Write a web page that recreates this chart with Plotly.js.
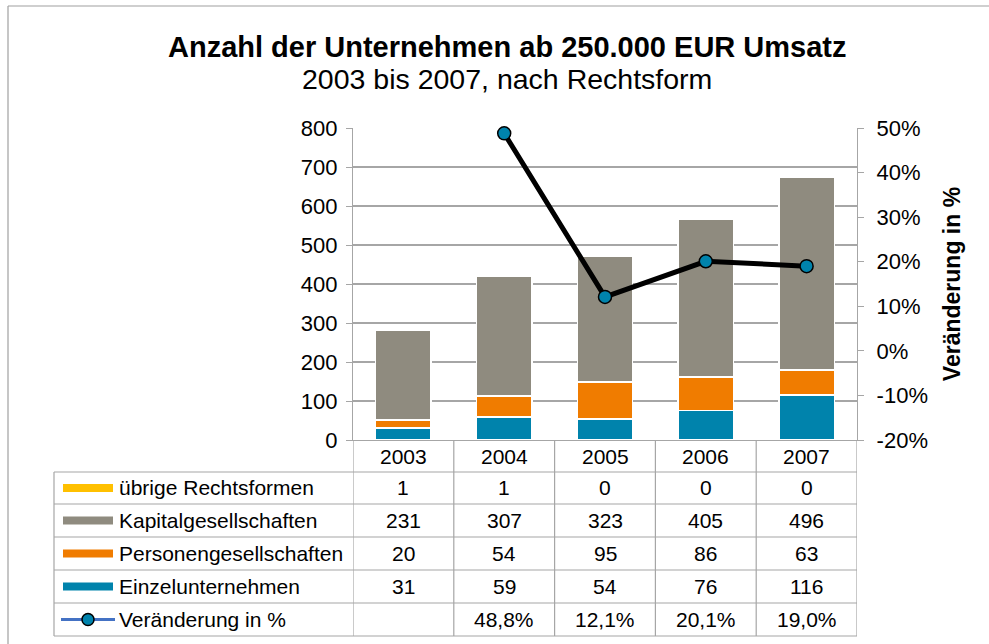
<!DOCTYPE html>
<html>
<head>
<meta charset="utf-8">
<script src="https://cdn.plot.ly/plotly-3.0.1.min.js"></script>
<style>
html,body{margin:0;padding:0;background:#fff;}
#chart{width:989px;height:644px;}
</style>
</head>
<body>
<div id="chart"></div>
<script>
// ---- data ----
const years = ['2003', '2004', '2005', '2006', '2007'];
const einzel = [31, 59, 54, 76, 116];
const personen = [20, 54, 95, 86, 63];
const kapital = [231, 307, 323, 405, 496];
const uebrige = [1, 1, 0, 0, 0];
const veraenderung = [null, 0.488, 0.121, 0.201, 0.190];
const seriesNames = ['übrige Rechtsformen', 'Kapitalgesellschaften', 'Personengesellschaften', 'Einzelunternehmen'];
const lineName = 'Veränderung in %';
const titleText = 'Anzahl der Unternehmen ab 250.000 EUR Umsatz';
const subtitleText = '2003 bis 2007, nach Rechtsform';
const y2Title = 'Veränderung in %';
const y2TickVals = [-0.2, -0.1, 0, 0.1, 0.2, 0.3, 0.4, 0.5];
const y2TickText = ['-20%', '-10%', '0%', '10%', '20%', '30%', '40%', '50%'];

// ---- style ----
const C_TEAL = '#0083AC', C_ORANGE = '#F07C00', C_GRAY = '#8F8B7F', C_YELLOW = '#FFC000';
const FONT = '"Liberation Sans", Arial, sans-serif';
const GRID = '#A6A6A6';
const W = 989, H = 644;
const L = 353, R = 857, T = 128, B = 440;
const px = x => (x - L) / (R - L);
const py = y => (B - y) / (B - T);
const TABLE_FS = 21, TICK_FS = 22;

const barLine = {color: '#ffffff', width: 1.5};
const traces = [
  {type: 'bar', name: seriesNames[3], x: years, y: einzel, marker: {color: C_TEAL, line: barLine}, width: 0.55, hoverinfo: 'y'},
  {type: 'bar', name: seriesNames[2], x: years, y: personen, marker: {color: C_ORANGE, line: barLine}, width: 0.55, hoverinfo: 'y'},
  {type: 'bar', name: seriesNames[1], x: years, y: kapital, marker: {color: C_GRAY, line: barLine}, width: 0.55, hoverinfo: 'y'},
  {type: 'bar', name: seriesNames[0], x: years, y: uebrige, marker: {color: C_YELLOW, line: {width: 0}}, width: 0.55, hoverinfo: 'y'},
  {type: 'scatter', mode: 'lines+markers', name: lineName, x: years, y: veraenderung, yaxis: 'y2',
   line: {color: '#000000', width: 5}, connectgaps: false, cliponaxis: false,
   marker: {color: C_TEAL, size: 13, line: {color: '#000000', width: 1.5}}}
];

// ---- table geometry ----
const rowEdges = [472, 504, 537, 570, 603, 636];
const rowCenters = [];
for (let i = 0; i < rowEdges.length - 1; i++) rowCenters.push((rowEdges[i] + rowEdges[i + 1]) / 2);
const headerCenter = (B + rowEdges[0]) / 2;
const tableLeft = 54;
const lineCol = GRID;

const shapes = [];
const annotations = [];
const cellFont = {family: FONT, size: TABLE_FS, color: '#000'};

// outer border (only top and left edges fall inside the picture)
shapes.push({type: 'line', xref: 'paper', yref: 'paper', x0: px(8), x1: px(W), y0: py(6), y1: py(6), line: {color: '#A0A0A0', width: 1.2}, layer: 'below'});
shapes.push({type: 'line', xref: 'paper', yref: 'paper', x0: px(8), x1: px(8), y0: py(6), y1: py(H), line: {color: '#A0A0A0', width: 1.2}, layer: 'below'});

// horizontal table lines
rowEdges.forEach(y => shapes.push({type: 'line', xref: 'paper', yref: 'paper', x0: px(tableLeft), x1: 1, y0: py(y), y1: py(y), line: {color: lineCol, width: 1.2}}));
// left border of label column
shapes.push({type: 'line', xref: 'paper', yref: 'paper', x0: px(tableLeft), x1: px(tableLeft), y0: py(rowEdges[0]), y1: py(rowEdges[rowEdges.length - 1]), line: {color: lineCol, width: 1.2}});
// vertical column lines at category boundaries
for (let i = 0; i <= years.length; i++) {
  shapes.push({type: 'line', xref: 'x', yref: 'paper', x0: i - 0.5, x1: i - 0.5, y0: 0, y1: py(rowEdges[rowEdges.length - 1]), line: {color: lineCol, width: 1.2}});
}

// header (years) - positioned by category index on the x axis
years.forEach((yr, i) => annotations.push({xref: 'x', yref: 'paper', x: i, y: py(headerCenter), text: yr, showarrow: false, font: cellFont, xanchor: 'center', yanchor: 'middle'}));

// rows
const rowData = [uebrige, kapital, personen, einzel];
const rowColors = [C_YELLOW, C_GRAY, C_ORANGE, C_TEAL];
rowData.forEach((vals, r) => {
  const yc = rowCenters[r];
  shapes.push({type: 'line', xref: 'paper', yref: 'paper', x0: px(63), x1: px(113), y0: py(yc), y1: py(yc), line: {color: rowColors[r], width: 8}});
  annotations.push({xref: 'paper', yref: 'paper', x: px(117), y: py(yc), text: seriesNames[r], showarrow: false, font: cellFont, xanchor: 'left', yanchor: 'middle'});
  vals.forEach((v, i) => annotations.push({xref: 'x', yref: 'paper', x: i, y: py(yc), text: String(v), showarrow: false, font: cellFont, xanchor: 'center', yanchor: 'middle'}));
});
// line row
{
  const yc = rowCenters[4];
  shapes.push({type: 'line', xref: 'paper', yref: 'paper', x0: px(61), x1: px(115), y0: py(yc), y1: py(yc), line: {color: '#4472C4', width: 3}});
  shapes.push({type: 'circle', xref: 'paper', yref: 'paper', x0: px(82), x1: px(94), y0: py(yc - 6), y1: py(yc + 6), fillcolor: C_TEAL, line: {color: '#000', width: 1.5}});
  annotations.push({xref: 'paper', yref: 'paper', x: px(117), y: py(yc), text: lineName, showarrow: false, font: cellFont, xanchor: 'left', yanchor: 'middle'});
  veraenderung.forEach((v, i) => {
    if (v === null) return;
    annotations.push({xref: 'x', yref: 'paper', x: i, y: py(yc), text: (v * 100).toFixed(1).replace('.', ',') + '%', showarrow: false, font: cellFont, xanchor: 'center', yanchor: 'middle'});
  });
}

// titles
annotations.push({xref: 'paper', yref: 'paper', x: px(507), y: py(47), text: '<b>' + titleText + '</b>', showarrow: false, font: {family: FONT, size: 29, color: '#000'}, xanchor: 'center', yanchor: 'middle'});
annotations.push({xref: 'paper', yref: 'paper', x: px(507), y: py(79), text: subtitleText, showarrow: false, font: {family: FONT, size: 28.5, color: '#000'}, xanchor: 'center', yanchor: 'middle'});

const layout = {
  width: W, height: H,
  margin: {l: L, r: W - R, t: T, b: H - B, pad: 0},
  paper_bgcolor: '#ffffff', plot_bgcolor: '#ffffff',
  barmode: 'stack', bargap: 0.45,
  showlegend: false,
  separators: ',.',
  font: {family: FONT, size: TICK_FS, color: '#000'},
  xaxis: {type: 'category', range: [-0.5, 4.5], showticklabels: false, ticks: '', showline: true, linecolor: GRID, linewidth: 1.2, showgrid: false, zeroline: false, fixedrange: true},
  yaxis: {range: [0, 800], dtick: 100, tick0: 0, ticks: 'outside', ticklen: 6, tickcolor: GRID, showline: true, linecolor: GRID, linewidth: 1.2,
          gridcolor: GRID, gridwidth: 1.2, zeroline: false, tickfont: {family: FONT, size: TICK_FS, color: '#000'}, ticklabelstandoff: 4},
  yaxis2: {overlaying: 'y', side: 'right', range: [-0.2, 0.5], tickmode: 'array', tickvals: y2TickVals, ticktext: y2TickText, ticks: 'outside', ticklen: 6, tickcolor: GRID,
           showline: true, linecolor: GRID, linewidth: 1.2, showgrid: false, zeroline: false, tickfont: {family: FONT, size: TICK_FS, color: '#000'}, ticklabelstandoff: 8,
           title: {text: '<b>' + y2Title + '</b>', font: {family: FONT, size: 23, color: '#000'}, standoff: 17}},
  shapes: shapes,
  annotations: annotations
};

Plotly.newPlot('chart', traces, layout, {displayModeBar: false, staticPlot: true});
</script>
</body>
</html>
